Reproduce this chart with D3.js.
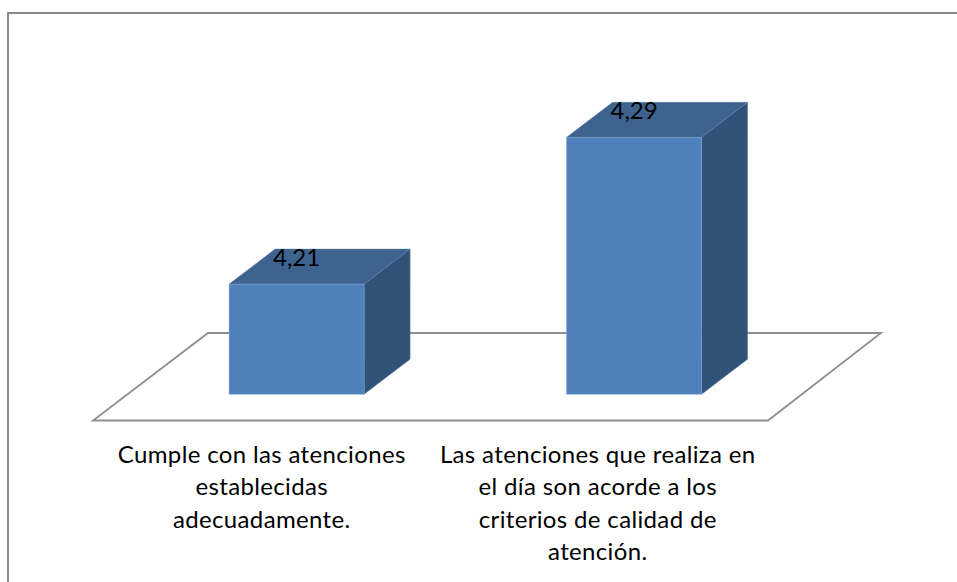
<!DOCTYPE html>
<html>
<head>
<meta charset="utf-8">
<script src="https://cdn.jsdelivr.net/npm/d3@7"></script>
<style>
  html, body { margin: 0; padding: 0; background: #fff; }
  svg { display: block; }
  text { font-family: Lato, "Open Sans", sans-serif; fill: #000; }
</style>
</head>
<body>
<svg width="957" height="582"></svg>
<script>
const width = 957;
const height = 582;

const categories = [
  ["Cumple con las atenciones", "establecidas", "adecuadamente."],
  ["Las atenciones que realiza en", "el día son acorde a los", "criterios de calidad de", "atención."]
];
const values = [4.21, 4.29];
const valueLabels = ["4,21", "4,29"];

const svg = d3.select("svg");

// floor front edge and the depth vector of the floor
const floorY = 420.5;
const floorDepth = { x: 115, y: -87.5 };

const x = d3.scaleBand()
  .domain(d3.range(categories.length))
  .range([93, 768])
  .paddingInner(0.6)
  .paddingOuter(0.3);

// value axis starts above zero, the 3d chart was cropped
const y = d3.scaleLinear()
  .domain([4.15, 4.29])
  .range([394.2, 137.3]);

// share of the floor depth where the bars start and end
const barFront = 0.303;
const barBack = 0.703;

const dx = floorDepth.x * barFront;
const bx = floorDepth.x * (barBack - barFront);
const by = floorDepth.y * (barBack - barFront);

// outer frame, cut by the picture edge on the right and bottom
svg.append("path")
  .attr("d", `M8,${height}V13H${width}`)
  .attr("fill", "none")
  .attr("stroke", "#8a8a8a")
  .attr("stroke-width", 2);

// floor, the back edge is a bit shorter than the front one
svg.append("path")
  .attr("d", `M93,${floorY}H768L${768 + floorDepth.x - 2},${floorY + floorDepth.y}H${93 + floorDepth.x}Z`)
  .attr("fill", "#fff")
  .attr("stroke", "#8f8f8f")
  .attr("stroke-width", 1.8);

const bars = svg.append("g")
  .selectAll("g")
  .data(values)
  .join("g");

const left = (d, i) => x(i) + dx;
const right = (d, i) => left(d, i) + x.bandwidth();

// top face
bars.append("path")
  .attr("d", (d, i) => `M${left(d, i)},${y(d)}l${bx},${by}H${right(d, i) + bx}L${right(d, i)},${y(d)}Z`)
  .attr("fill", "#3e638f")
  .attr("stroke", "#5d80aa")
  .attr("stroke-width", 0.5);

// side face
bars.append("path")
  .attr("d", (d, i) => `M${right(d, i)},${y(d)}l${bx},${by}V${y.range()[0] + by}L${right(d, i)},${y.range()[0]}Z`)
  .attr("fill", "#325379")
  .attr("stroke", "#5d80aa")
  .attr("stroke-width", 0.5);

// front face
bars.append("rect")
  .attr("x", left)
  .attr("y", d => y(d))
  .attr("width", x.bandwidth())
  .attr("height", d => y.range()[0] - y(d))
  .attr("fill", "#4f81bd")
  .attr("stroke", "#7ea3d0")
  .attr("stroke-width", 0.5);

// data labels
bars.append("text")
  .attr("x", (d, i) => left(d, i) + x.bandwidth() / 2)
  .attr("y", d => y(d) - 18)
  .attr("text-anchor", "middle")
  .style("font-size", "24px")
  .text((d, i) => valueLabels[i]);

// category labels
const labelStep = 32.3;
svg.append("g")
  .selectAll("text")
  .data(categories)
  .join("text")
  .attr("text-anchor", "middle")
  .style("font-size", "24px")
  .style("letter-spacing", "0.35px")
  .each(function(lines, i) {
    d3.select(this)
      .selectAll("tspan")
      .data(lines)
      .join("tspan")
      .attr("x", x(i) + x.bandwidth() / 2 - i * 1.5)
      .attr("y", (l, j) => 463 + j * labelStep)
      .text(l => l);
  });
</script>
</body>
</html>
